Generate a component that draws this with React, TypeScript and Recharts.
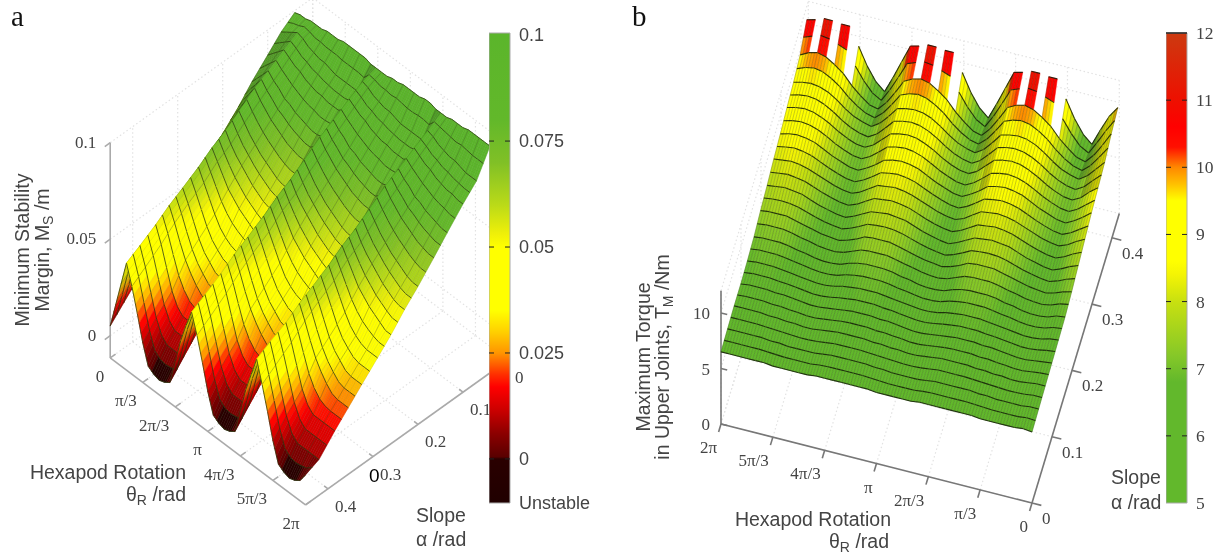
import { Bar, BarChart, ReferenceLine, Scatter, ScatterChart, XAxis, YAxis } from "recharts";

const W = 1222;
const H = 557;
const SERIF = "'Liberation Serif', serif";
const SANS = "'Liberation Sans', sans-serif";
const INK = "#444";

// theta stations in units of pi/18 (shared by both surfaces)
const THETA_STEPS = [0,1,2,3,4,5,6,7,8,9,10,11,12,13,14,15,16,17,18,19,20,21,22,23,24,25,26,27,28,29,30,31,32,33,34,35,36];
const THETA_TICKS = ["0", "π/3", "2π/3", "π", "4π/3", "5π/3", "2π"];
const THETA_TICK_TURNS = [0, 1 / 6, 2 / 6, 3 / 6, 4 / 6, 5 / 6, 1];

// panel a: slope stations (rad) and margin (mm)
const SLOPES_A = [0.04, 0.07, 0.1, 0.135, 0.165, 0.2, 0.23, 0.26, 0.29, 0.325, 0.355, 0.385, 0.42, 0.45];
const MARGIN_A = [
  [99,100,100,101,101,101,102,102,102,103,103,103,103,103,102,102,102,102,103,103,104,104,104,104,105,105,104,104,104,105,105,105,106,106,106,106,106],
  [94,96,98,100,99,97,96,95,95,94,93,93,93,93,93,100,99,97,96,95,95,94,93,93,93,93,93,100,99,97,96,95,95,94,93,93,93],
  [87,90,93,96,94,92,91,89,88,87,87,86,86,86,88,96,94,92,91,89,88,87,87,86,86,86,88,96,94,92,91,89,88,87,87,86,86],
  [79,83,87,91,88,86,83,82,80,79,78,77,77,78,84,91,88,86,83,82,80,79,78,77,77,78,84,91,88,86,83,82,80,79,78,77,77],
  [71,77,82,87,83,80,77,75,73,71,70,69,69,73,80,87,83,80,77,75,73,71,70,69,69,73,80,87,83,80,77,75,73,71,70,69,69],
  [63,69,75,81,77,73,70,67,65,63,61,60,60,67,74,81,77,73,70,67,65,63,61,60,60,67,74,81,77,73,70,67,65,63,61,60,60],
  [56,63,70,76,71,67,64,61,58,56,54,53,53,61,69,76,71,67,64,61,58,56,54,53,53,61,69,76,71,67,64,61,58,56,54,53,53],
  [48,56,64,72,67,62,57,54,51,49,47,45,47,56,65,72,67,62,57,54,51,49,47,45,47,56,65,72,67,62,57,54,51,49,47,45,45],
  [41,50,59,67,61,55,49,44,41,39,38,38,40,50,60,67,61,55,49,44,41,39,38,38,40,50,60,67,61,55,49,44,41,39,38,38,38],
  [34,43,53,62,56,49,42,37,34,31,30,30,33,44,54,62,56,49,42,37,34,31,30,30,33,44,54,62,56,49,42,37,34,31,30,30,30],
  [27,38,48,58,51,43,36,31,27,24,23,23,27,38,49,58,51,43,36,31,27,24,23,23,27,38,49,58,51,43,36,31,27,24,23,23,23],
  [20,32,43,53,45,35,25,19,16,16,16,16,24,35,45,53,45,35,25,19,16,16,16,16,24,35,45,53,45,35,25,19,16,16,16,16,16],
  [12,24,37,48,39,28,17,10,7,7,7,7,19,32,42,48,39,28,17,10,7,7,7,7,19,32,42,49,39,28,17,10,7,7,7,7,7],
  [5,18,31,44,34,22,9,-1,-3,-4,-3,-1,12,25,35,44,34,22,9,-1,-3,-4,-3,-1,12,25,35,45,34,22,9,-1,-3,-4,-3,-1,4],
];

// panel b: slope stations (rad) and torque (Nm x 10), columns run from theta = 2pi down to 0
const SLOPES_B = [0, 0.033, 0.066, 0.099, 0.132, 0.165, 0.198, 0.231, 0.264, 0.297, 0.33, 0.363, 0.396, 0.429];
const TORQUE_B = [
  [65,65,65,65,65,65,64,64,64,64,64,65,65,65,65,65,65,65,64,64,64,64,64,65,65,65,65,65,65,65,64,64,64,64,64,65,64],
  [66,66,66,66,66,65,65,64,64,64,64,65,66,66,66,66,66,65,65,64,64,64,64,65,66,66,66,66,66,65,65,64,64,64,64,65,65],
  [67,67,67,67,66,66,65,65,64,64,65,66,67,67,67,67,66,66,65,65,64,64,65,66,67,67,67,67,66,66,65,65,64,64,65,66,66],
  [67,68,68,68,67,67,66,65,64,64,65,66,67,68,68,68,67,67,66,65,64,64,65,66,67,68,68,68,67,67,66,65,64,64,65,66,67],
  [68,69,69,69,68,67,66,65,64,64,65,67,68,69,69,69,68,67,66,65,64,64,65,67,68,69,69,69,68,67,66,65,64,64,65,67,68],
  [70,71,71,71,70,68,67,65,64,64,65,68,70,71,71,71,70,68,67,65,64,64,65,68,70,71,71,71,70,68,67,65,64,64,65,68,69],
  [74,75,75,75,73,71,69,67,66,65,67,70,74,75,75,75,73,71,69,67,66,65,67,70,74,75,75,75,73,71,69,67,66,65,67,70,72],
  [77,78,79,78,77,74,71,69,67,66,69,73,77,78,79,78,77,74,71,69,67,66,69,73,77,78,79,78,77,74,71,69,67,66,69,73,76],
  [81,82,83,82,80,77,74,71,69,68,71,76,81,82,83,82,80,77,74,71,69,68,71,76,81,82,83,82,80,77,74,71,69,68,71,76,80],
  [84,86,87,86,84,80,76,73,70,69,73,78,84,86,87,86,84,80,76,73,70,69,73,78,84,86,87,86,84,80,76,73,70,69,73,78,84],
  [88,90,91,90,87,83,78,74,71,70,74,81,88,90,91,90,87,83,78,74,71,70,74,81,88,90,91,90,87,83,78,74,71,70,74,81,87],
  [91,93,94,93,90,85,79,74,71,69,74,82,91,93,94,93,90,85,79,74,71,69,74,82,91,93,94,93,90,85,79,74,71,69,74,82,90],
  [96,100,102,100,95,89,80,73,67,65,73,84,96,100,102,100,95,89,80,73,67,65,73,84,96,100,102,100,95,89,80,73,67,65,73,84,96],
  [108,110,113,113,112,112,96,80,68,61,76,92,108,110,113,113,112,112,96,80,68,61,76,92,108,110,113,113,112,112,96,80,68,61,76,90,100],
];
// cells of the last strip that are cut away above the z range
const TORQUE_CUT_CELLS = [1, 3, 5, 13, 15, 17, 25, 27, 29];

const ALPHA_TICKS_A = [0, 0.1, 0.2, 0.3, 0.4];
const ALPHA_TICKS_B = [0, 0.1, 0.2, 0.3, 0.4];
const Z_TICKS_A = [0, 0.05, 0.1];
const Z_TICKS_B = [0, 5, 10];

const BAR_TICKS_A = [0.1, 0.075, 0.05, 0.025, 0, -0.0104];
const BAR_LABELS_A = ["0.1", "0.075", "0.05", "0.025", "0", "Unstable"];
const BAR_TICKS_B = [12, 11, 10, 9, 8, 7, 6, 5];

const PALETTE_A_VALUES = [0.1, 0.08, 0.07, 0.06, 0.053, 0.05, 0.035, 0.03, 0.025, 0.02, 0.017, 0.012, 0.006, 0.0005, 0, -0.0104];
const PALETTE_A_COLOURS = ["#5bb52b", "#62b82a", "#80c026", "#bada18", "#f0f008", "#ffff00", "#ffff00", "#ffd000", "#ff9500", "#ff3000", "#ff0000", "#d00000", "#8c0000", "#5a0000", "#2a0000", "#200000"];
const PALETTE_B_VALUES = [12, 11, 10.6, 10.3, 10, 9.75, 9.5, 8.6, 8.4, 8, 7.2, 6.8, 5];
const PALETTE_B_COLOURS = ["#cc3a10", "#ee1000", "#ff0000", "#ff1000", "#ff8800", "#ffc000", "#ffff00", "#ffff00", "#f4f404", "#c8e010", "#86c828", "#62b82c", "#62b82c"];

type Pt = { x: number; y: number };

// camera of panel a: turn = theta / 2pi
const Z_FLOOR_A = -0.0115;
const ALPHA_END_A = 0.45;
function projectA(turn: number, alpha: number, z: number): Pt {
  return { x: 312.7 + 195.3 * turn - 450 * alpha, y: 213 + 147 * turn + 322 * alpha - 1930 * (z - Z_FLOOR_A) };
}
// camera of panel b
const ALPHA_END_B = 0.4365;
function projectB(turn: number, alpha: number, z: number): Pt {
  const v = 1 - turn;
  return { x: 721 + 311 * v + 200 * alpha, y: 424 + 79 * v - 663 * alpha - 11.1 * z };
}

function rgbOf(hex: string) {
  return [parseInt(hex.slice(1, 3), 16), parseInt(hex.slice(3, 5), 16), parseInt(hex.slice(5, 7), 16)];
}
function colourAt(value: number, values: number[], colours: string[], shade: number) {
  let i = 0;
  while (i < values.length - 2 && value < values[i + 1]) i++;
  const t = Math.min(1, Math.max(0, (values[i] - value) / (values[i] - values[i + 1])));
  const a = rgbOf(colours[i]);
  const b = rgbOf(colours[i + 1]);
  const c = a.map((n, k) => Math.round((n + (b[k] - n) * t) * shade));
  return `rgb(${c[0]},${c[1]},${c[2]})`;
}

const lerp = (a: number, b: number, t: number) => a + (b - a) * t;
const NoDot = () => null;

type MeshSpec = {
  values: number[][];
  colour: (v: number, shade: number) => string;
  riseShade: (rise: number) => number;
  cut: number[];
  contour: string;
  contourWidth: number;
  stripeEven: number;
  stripeOdd: number;
  fine: number;
};

const SUB_S = 3;
const SUB_T = 2;

// the surface is one scatter series; its joint line receives every grid point through the chart scales
function meshLine(spec: MeshSpec) {
  return (props: any) => {
    const pts: Pt[] = props.points;
    const rows = spec.values.length;
    const cols = spec.values[0].length;
    const out: any[] = [];
    for (let r = 0; r < rows - 1; r++) {
      for (let c = 0; c < cols - 1; c++) {
        if (r === 0 && spec.cut.includes(c)) continue;
        const p00 = pts[r * cols + c];
        const p01 = pts[r * cols + c + 1];
        const p10 = pts[(r + 1) * cols + c];
        const p11 = pts[(r + 1) * cols + c + 1];
        const z = spec.values;
        const at = (s: number, t: number) => ({
          x: lerp(lerp(p00.x, p01.x, s), lerp(p10.x, p11.x, s), t),
          y: lerp(lerp(p00.y, p01.y, s), lerp(p10.y, p11.y, s), t),
        });
        const zAt = (s: number, t: number) =>
          lerp(lerp(z[r][c], z[r][c + 1], s), lerp(z[r + 1][c], z[r + 1][c + 1], s), t);
        const shade = spec.riseShade((z[r][c + 1] + z[r + 1][c + 1] - z[r][c] - z[r + 1][c]) / 2);
        for (let s = 0; s < SUB_S; s++) {
          for (let t = 0; t < SUB_T; t++) {
            const a = at(s / SUB_S, t / SUB_T);
            const b = at((s + 1) / SUB_S, t / SUB_T);
            const d = at((s + 1) / SUB_S, (t + 1) / SUB_T);
            const e = at(s / SUB_S, (t + 1) / SUB_T);
            const fill = spec.colour(zAt((s + 0.5) / SUB_S, (t + 0.5) / SUB_T), shade);
            out.push(
              <path
                key={`q${r}-${c}-${s}-${t}`}
                d={`M${a.x} ${a.y}L${b.x} ${b.y}L${d.x} ${d.y}L${e.x} ${e.y}Z`}
                fill={fill}
                stroke={fill}
                strokeWidth={0.5}
              />
            );
          }
        }
        for (let s = 0; s <= SUB_S; s++) {
          if (s === SUB_S && c < cols - 2) continue;
          const a = at(s / SUB_S, 0);
          const b = at(s / SUB_S, 1);
          const opacity = s % SUB_S === 0 ? (c % 2 === 0 ? spec.stripeEven : spec.stripeOdd) : spec.fine;
          out.push(
            <line key={`s${r}-${c}-${s}`} x1={a.x} y1={a.y} x2={b.x} y2={b.y} stroke="#1c2a08" strokeWidth={0.7} strokeOpacity={opacity} />
          );
        }
        for (let t = 0; t <= SUB_T; t++) {
          if (t === SUB_T && r < rows - 2) continue;
          const a = at(0, t / SUB_T);
          const b = at(1, t / SUB_T);
          out.push(
            <line
              key={`t${r}-${c}-${t}`}
              x1={a.x}
              y1={a.y}
              x2={b.x}
              y2={b.y}
              stroke={spec.contour}
              strokeWidth={spec.contourWidth}
              strokeOpacity={0.85}
            />
          );
        }
      }
    }
    return <g>{out}</g>;
  };
}

// every consecutive pair of points is one straight segment
function segmentLine(stroke: string, width: number, dash?: string) {
  return (props: any) => {
    const pts: Pt[] = props.points;
    const out: any[] = [];
    for (let i = 0; i + 1 < pts.length; i += 2) {
      out.push(
        <line
          key={i}
          x1={pts[i].x}
          y1={pts[i].y}
          x2={pts[i + 1].x}
          y2={pts[i + 1].y}
          stroke={stroke}
          strokeWidth={width}
          strokeDasharray={dash}
        />
      );
    }
    return <g>{out}</g>;
  };
}

function labelShape(dx: number, dy: number, anchor: string, size: number) {
  return (props: any) => (
    <text x={props.cx + dx} y={props.cy + dy} textAnchor={anchor} fontFamily={SERIF} fontSize={size} fill={INK}>
      {props.payload.label}
    </text>
  );
}

// surface points in painter order: far rows first, and left to right
const surfaceA = MARGIN_A.flatMap((row, r) =>
  row.map((mm, c) => projectA(THETA_STEPS[c] / 36, SLOPES_A[r], mm / 1000))
);
const torqueFarFirst = [...TORQUE_B].reverse();
const slopesFarFirst = [...SLOPES_B].reverse();
const surfaceB = torqueFarFirst.flatMap((row, r) =>
  row.map((t, c) => projectB(THETA_STEPS[36 - c] / 36, slopesFarFirst[r], t / 10))
);

const specA: MeshSpec = {
  values: MARGIN_A,
  colour: (mm, shade) => colourAt(mm / 1000, PALETTE_A_VALUES, PALETTE_A_COLOURS, shade),
  riseShade: (rise) => (rise > 1.5 ? 0.85 : 1),
  cut: [],
  contour: "#2a3a10",
  contourWidth: 0.9,
  stripeEven: 0.4,
  stripeOdd: 0.14,
  fine: 0.08,
};
const specB: MeshSpec = {
  values: torqueFarFirst,
  colour: (t, shade) => colourAt(t / 10, PALETTE_B_VALUES, PALETTE_B_COLOURS, shade),
  riseShade: (rise) => (rise > 6 ? 0.82 : 1),
  cut: TORQUE_CUT_CELLS,
  contour: "#121a06",
  contourWidth: 1.1,
  stripeEven: 0.35,
  stripeOdd: 0.35,
  fine: 0.3,
};

function gridA(): Pt[] {
  const s: Pt[] = [];
  THETA_TICK_TURNS.forEach((t) => {
    s.push(projectA(t, 0, Z_FLOOR_A), projectA(t, ALPHA_END_A, Z_FLOOR_A));
    s.push(projectA(t, 0, Z_FLOOR_A), projectA(t, 0, 0.1));
  });
  ALPHA_TICKS_A.forEach((a) => {
    s.push(projectA(0, a, Z_FLOOR_A), projectA(1, a, Z_FLOOR_A));
    s.push(projectA(0, a, Z_FLOOR_A), projectA(0, a, 0.1));
  });
  Z_TICKS_A.forEach((z) => {
    s.push(projectA(0, ALPHA_END_A, z), projectA(0, 0, z));
    s.push(projectA(0, 0, z), projectA(1, 0, z));
  });
  return s;
}
function gridB(): Pt[] {
  const s: Pt[] = [];
  THETA_TICK_TURNS.forEach((t) => {
    s.push(projectB(t, 0, 0), projectB(t, ALPHA_END_B, 0));
    s.push(projectB(t, ALPHA_END_B, 0), projectB(t, ALPHA_END_B, 12));
  });
  ALPHA_TICKS_B.forEach((a) => {
    s.push(projectB(1, a, 0), projectB(0, a, 0));
    s.push(projectB(1, a, 0), projectB(1, a, 12));
  });
  [...Z_TICKS_B, 12].forEach((z) => {
    s.push(projectB(1, 0, z), projectB(1, ALPHA_END_B, z));
    s.push(projectB(1, ALPHA_END_B, z), projectB(0, ALPHA_END_B, z));
  });
  return s;
}

function axesA(): Pt[] {
  const s: Pt[] = [
    projectA(0, ALPHA_END_A, Z_FLOOR_A), projectA(1, ALPHA_END_A, Z_FLOOR_A),
    projectA(1, ALPHA_END_A, Z_FLOOR_A), projectA(1, 0, Z_FLOOR_A),
    projectA(0, ALPHA_END_A, Z_FLOOR_A), projectA(0, ALPHA_END_A, 0.1),
  ];
  THETA_TICK_TURNS.forEach((t) => s.push(projectA(t, ALPHA_END_A, Z_FLOOR_A), projectA(t, ALPHA_END_A - 0.012, Z_FLOOR_A)));
  ALPHA_TICKS_A.forEach((a) => s.push(projectA(1, a, Z_FLOOR_A), projectA(0.98, a, Z_FLOOR_A)));
  Z_TICKS_A.forEach((z) => s.push(projectA(0, ALPHA_END_A, z), projectA(0, ALPHA_END_A + 0.012, z)));
  return s;
}
function axesB(): Pt[] {
  const s: Pt[] = [
    projectB(1, 0, 0), projectB(0, 0, 0),
    projectB(0, 0, 0), projectB(0, ALPHA_END_B, 0),
    projectB(1, 0, 0), projectB(1, 0, 12),
  ];
  THETA_TICK_TURNS.forEach((t) => s.push(projectB(t, 0, 0), projectB(t, -0.012, 0)));
  ALPHA_TICKS_B.forEach((a) => s.push(projectB(0, a, 0), projectB(-0.03, a, 0)));
  Z_TICKS_B.forEach((z) => s.push(projectB(1, 0, z), projectB(0.98, 0, z)));
  return s;
}

const labelsAt = (pts: Pt[], labels: (string | number)[]) => pts.map((p, i) => ({ ...p, label: String(labels[i]) }));

const thetaLabelsA = labelsAt(THETA_TICK_TURNS.map((t) => projectA(t, ALPHA_END_A, Z_FLOOR_A)), THETA_TICKS);
const alphaLabelsA = labelsAt(ALPHA_TICKS_A.map((a) => projectA(1, a, Z_FLOOR_A)), ALPHA_TICKS_A);
const zLabelsA = labelsAt(Z_TICKS_A.map((z) => projectA(0, ALPHA_END_A, z)), Z_TICKS_A);
const thetaLabelsB = labelsAt(THETA_TICK_TURNS.map((t) => projectB(t, 0, 0)), THETA_TICKS);
const alphaLabelsB = labelsAt(ALPHA_TICKS_B.map((a) => projectB(0, a, 0)), ALPHA_TICKS_B);
const zLabelsB = labelsAt(Z_TICKS_B.map((z) => projectB(1, 0, z)), Z_TICKS_B);

function ColourBar(props: {
  id: string;
  left: number;
  domain: [number, number];
  ticks: number[];
  labels: string[];
  paletteValues: number[];
  paletteColours: string[];
  font: string;
  capLine?: boolean;
}) {
  const { id, left, domain, ticks, labels, paletteValues, paletteColours, font, capLine } = props;
  const [lo, hi] = domain;
  return (
    <div style={{ position: "absolute", left, top: 13 }}>
      <BarChart width={110} height={510} data={[{ name: "bar", range: [lo, hi] }]} margin={{ top: 20, right: 0, bottom: 20, left: 0 }} barCategoryGap={0}>
        <defs>
          <linearGradient id={id} x1="0" y1="0" x2="0" y2="1">
            {paletteValues.map((v, i) => (
              <stop key={i} offset={`${((hi - v) / (hi - lo)) * 100}%`} stopColor={paletteColours[i]} />
            ))}
          </linearGradient>
        </defs>
        <XAxis dataKey="name" hide />
        <YAxis
          orientation="right"
          width={89}
          type="number"
          domain={domain}
          ticks={ticks}
          interval={0}
          axisLine={false}
          tickLine={false}
          tick={(p: any) => (
            <text x={p.x + 1} y={p.y + 6} fontFamily={font} fontSize={font === SANS ? 18 : 17.5} fill={INK}>
              {labels[ticks.indexOf(p.payload.value)]}
            </text>
          )}
        />
        <Bar dataKey="range" fill={`url(#${id})`} stroke="#aaa" strokeWidth={1} isAnimationActive={false} />
        {ticks.slice(1, -1).map((t) => (
          <ReferenceLine key={t} y={t} stroke="#222" strokeDasharray="5 11 5" />
        ))}
        {capLine ? <ReferenceLine y={hi} stroke="#222" strokeWidth={1.5} /> : null}
      </BarChart>
    </div>
  );
}

function Sub(props: { children: string }) {
  return (
    <tspan fontSize={14} dy={4}>
      {props.children}
    </tspan>
  );
}

function Titles() {
  const sans = { fontFamily: SANS, fontSize: 19.5, fill: INK };
  return (
    <svg width={W} height={H} style={{ position: "absolute", left: 0, top: 0, pointerEvents: "none" }}>
      <text x={11} y={26} fontFamily={SERIF} fontSize={29} fill="#111">a</text>
      <text x={632} y={26} fontFamily={SERIF} fontSize={29} fill="#111">b</text>
      <g transform="translate(29,250) rotate(-90)">
        <text textAnchor="middle" {...sans}>Minimum Stability</text>
      </g>
      <g transform="translate(49,250) rotate(-90)">
        <text textAnchor="middle" {...sans}>Margin, M<Sub>S</Sub><tspan dy={-4}> /m</tspan></text>
      </g>
      <text x={186} y={479} textAnchor="end" {...sans}>Hexapod Rotation</text>
      <text x={186} y={501} textAnchor="end" {...sans}>θ<Sub>R</Sub><tspan dy={-4}> /rad</tspan></text>
      <text x={416} y={522} {...sans}>Slope</text>
      <text x={416} y={546} {...sans}>α /rad</text>
      <text x={369} y={482} fontFamily={SANS} fontSize={19} fill="#000">0</text>
      <g transform="translate(650,357) rotate(-90)">
        <text textAnchor="middle" {...sans}>Maximum Torque</text>
      </g>
      <g transform="translate(669,357) rotate(-90)">
        <text textAnchor="middle" {...sans}>in Upper Joints, T<Sub>M</Sub><tspan dy={-4}> /Nm</tspan></text>
      </g>
      <text x={891} y={526} textAnchor="end" {...sans}>Hexapod Rotation</text>
      <text x={889} y={548} textAnchor="end" {...sans}>θ<Sub>R</Sub><tspan dy={-4}> /rad</tspan></text>
      <text x={1111} y={484} {...sans}>Slope</text>
      <text x={1111} y={509} {...sans}>α /rad</text>
    </svg>
  );
}

export default function App() {
  return (
    <div style={{ position: "absolute", left: 0, top: 0, width: W, height: H, background: "#fff", overflow: "hidden", filter: "blur(0.45px)" }}>
      <ScatterChart width={W} height={H} margin={{ top: 0, right: 0, bottom: 0, left: 0 }}>
        <XAxis type="number" dataKey="x" domain={[0, W]} hide allowDataOverflow />
        <YAxis type="number" dataKey="y" domain={[0, H]} reversed hide allowDataOverflow width={0} />
        <Scatter data={gridA()} shape={NoDot} line={segmentLine("#e2e2e2", 1.2, "1.5 2.5")} isAnimationActive={false} />
        <Scatter data={gridB()} shape={NoDot} line={segmentLine("#e2e2e2", 1.2, "1.5 2.5")} isAnimationActive={false} />
        <Scatter data={axesA()} shape={NoDot} line={segmentLine("#aaa", 1.6)} isAnimationActive={false} />
        <Scatter data={axesB()} shape={NoDot} line={segmentLine("#777", 1.6)} isAnimationActive={false} />
        <Scatter data={surfaceA} shape={NoDot} line={meshLine(specA)} isAnimationActive={false} />
        <Scatter data={surfaceB} shape={NoDot} line={meshLine(specB)} isAnimationActive={false} />
        <Scatter data={thetaLabelsA} shape={labelShape(-6, 24, "end", 17)} isAnimationActive={false} />
        <Scatter data={alphaLabelsA} shape={labelShape(7, 23, "start", 17)} isAnimationActive={false} />
        <Scatter data={zLabelsA} shape={labelShape(-14, 5, "end", 17)} isAnimationActive={false} />
        <Scatter data={thetaLabelsB} shape={labelShape(-4, 29, "end", 17)} isAnimationActive={false} />
        <Scatter data={alphaLabelsB} shape={labelShape(10, 21, "start", 17)} isAnimationActive={false} />
        <Scatter data={zLabelsB} shape={labelShape(-11, 6, "end", 17)} isAnimationActive={false} />
      </ScatterChart>
      <ColourBar id="barA" left={489} domain={[-0.0104, 0.1005]} ticks={BAR_TICKS_A} labels={BAR_LABELS_A} paletteValues={PALETTE_A_VALUES} paletteColours={PALETTE_A_COLOURS} font={SANS} />
      <ColourBar id="barB" left={1166} domain={[5, 12]} ticks={BAR_TICKS_B} labels={BAR_TICKS_B.map(String)} paletteValues={PALETTE_B_VALUES} paletteColours={PALETTE_B_COLOURS} font={SERIF} capLine />
      <Titles />
    </div>
  );
}
